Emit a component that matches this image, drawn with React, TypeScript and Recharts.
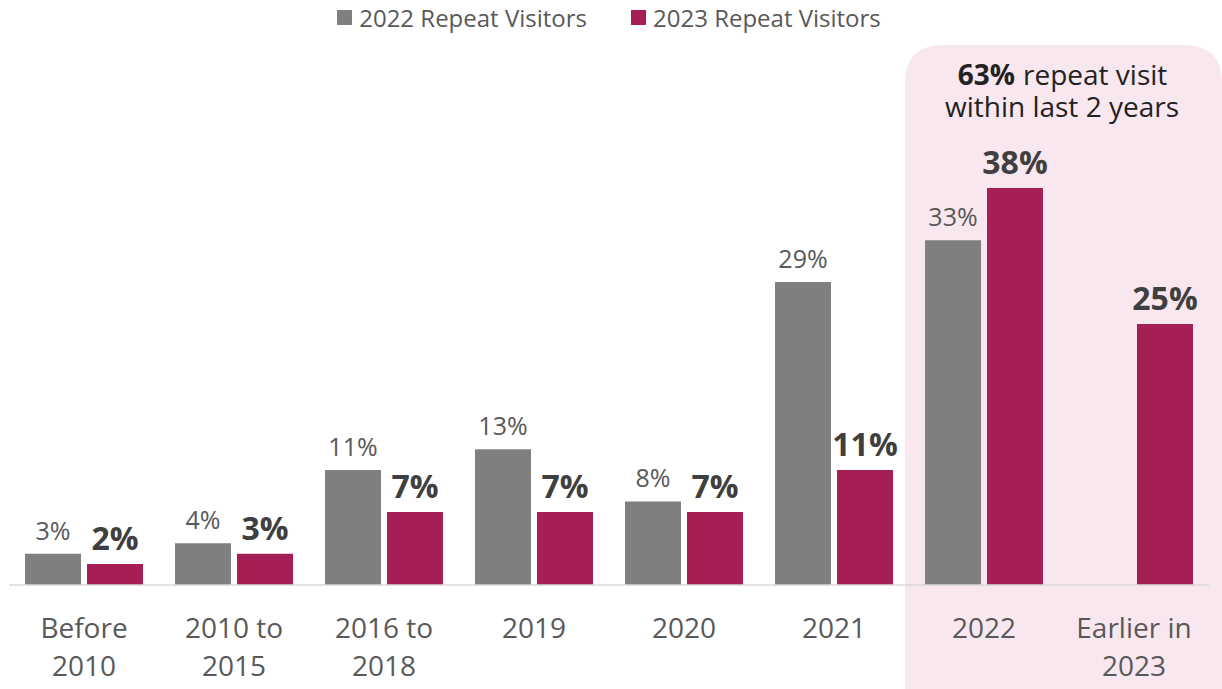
import React from 'react';
import { BarChart, Bar, XAxis, YAxis, Legend, ReferenceArea, LabelList } from 'recharts';

const categories = ['Before 2010', '2010 to 2015', '2016 to 2018', '2019', '2020', '2021', '2022', 'Earlier in 2023'];
const tickLines: string[][] = [
  ['Before', '2010'],
  ['2010 to', '2015'],
  ['2016 to', '2018'],
  ['2019'],
  ['2020'],
  ['2021'],
  ['2022'],
  ['Earlier in', '2023'],
];
const visitors2022: (number | null)[] = [3, 4, 11, 13, 8, 29, 33, null];
const visitors2023: number[] = [2, 3, 7, 7, 7, 11, 38, 25];
const seriesNames = ['2022 Repeat Visitors', '2023 Repeat Visitors'];
const highlightFrom = '2022';
const highlightTo = 'Earlier in 2023';
const annotationBold = '63%';
const annotationRest = 'repeat visit';
const annotationLine2 = 'within last 2 years';

const GRAY = '#7f7f7f';
const MAGENTA = '#a51e56';
const PINK = '#f8e7ef';
const TEXT = '#595959';
const FONT = '"Open Sans", "Noto Sans", sans-serif';

const data = categories.map((c, i) => ({
  name: c,
  v2022: visitors2022[i],
  v2023: visitors2023[i],
}));

const CustomTick = (props: any) => {
  const { x, y, payload } = props;
  const idx = categories.indexOf(payload.value);
  const lines = tickLines[idx] || [payload.value];
  return (
    <g>
      {lines.map((l, i) => (
        <text key={i} x={x} y={y + 45 + i * 38} textAnchor="middle" fill={TEXT} fontSize={28} fontFamily={FONT}>
          {l}
        </text>
      ))}
    </g>
  );
};

const GrayLabel = (props: any) => {
  const { x, y, width, value } = props;
  if (value == null) return null;
  return (
    <text x={x + width / 2} y={y - 14} textAnchor="middle" fill={TEXT} fontSize={25} fontFamily={FONT}>
      {value}%
    </text>
  );
};

const BoldLabel = (props: any) => {
  const { x, y, width, value } = props;
  if (value == null) return null;
  return (
    <text x={x + width / 2} y={y - 14} textAnchor="middle" fill="#3f3f3f" fontSize={32} fontWeight={700} fontFamily={FONT}>
      {value}%
    </text>
  );
};

const HighlightShape = (props: any) => {
  const { x, y, width, height } = props;
  const x0 = x - 4;
  const x1 = x + width + 13;
  const y0 = y;
  const y1 = y + height + 104;
  const r = 38;
  const d = `M${x0},${y1} L${x0},${y0 + r} Q${x0},${y0} ${x0 + r},${y0} L${x1 - r},${y0} Q${x1},${y0} ${x1},${y0 + r} L${x1},${y1} Z`;
  const cx = x + width / 2 + 3;
  return (
    <g>
      <path d={d} fill={PINK} />
      <text x={cx - 47} y={y0 + 40} textAnchor="end" fill="#222" fontSize={28} fontWeight={700} fontFamily={FONT}>
        {annotationBold}
      </text>
      <text x={cx - 39} y={y0 + 40} textAnchor="start" fill="#222" fontSize={28} fontFamily={FONT}>
        {annotationRest}
      </text>
      <text x={cx} y={y0 + 72} textAnchor="middle" fill="#222" fontSize={28} fontFamily={FONT}>
        {annotationLine2}
      </text>
    </g>
  );
};

const LegendContent = () => (
  <div style={{ height: 45, boxSizing: 'border-box', paddingTop: 1, display: 'flex', justifyContent: 'center', alignItems: 'flex-start', fontFamily: FONT, fontSize: 24, color: TEXT, gap: 44 }}>
    {seriesNames.map((n, i) => (
      <div key={n} style={{ display: 'flex', alignItems: 'center' }}>
        <span style={{ display: 'inline-block', width: 15, height: 15, background: i === 0 ? GRAY : MAGENTA, marginRight: 7 }} />
        <span>{n}</span>
      </div>
    ))}
  </div>
);

export default function App() {
  return (
    <div style={{ position: 'absolute', left: 0, top: 0, background: '#fff' }}>
      <BarChart
        width={1222}
        height={689}
        data={data}
        margin={{ top: 0, right: 13, bottom: 0, left: 9 }}
        barCategoryGap={16}
        barGap={6}
      >
        <ReferenceArea x1={highlightFrom} x2={highlightTo} shape={HighlightShape} ifOverflow="visible" />
        <XAxis
          dataKey="name"
          height={104}
          tick={<CustomTick />}
          tickLine={false}
          axisLine={{ stroke: '#d9d9d9', strokeWidth: 1.5 }}
          interval={0}
        />
        <YAxis hide domain={[0, 51.7]} />
        <Legend verticalAlign="top" content={<LegendContent />} />
        <Bar dataKey="v2022" name={seriesNames[0]} fill={GRAY} isAnimationActive={false}>
          <LabelList dataKey="v2022" content={<GrayLabel />} />
        </Bar>
        <Bar dataKey="v2023" name={seriesNames[1]} fill={MAGENTA} isAnimationActive={false}>
          <LabelList dataKey="v2023" content={<BoldLabel />} />
        </Bar>
      </BarChart>
    </div>
  );
}
